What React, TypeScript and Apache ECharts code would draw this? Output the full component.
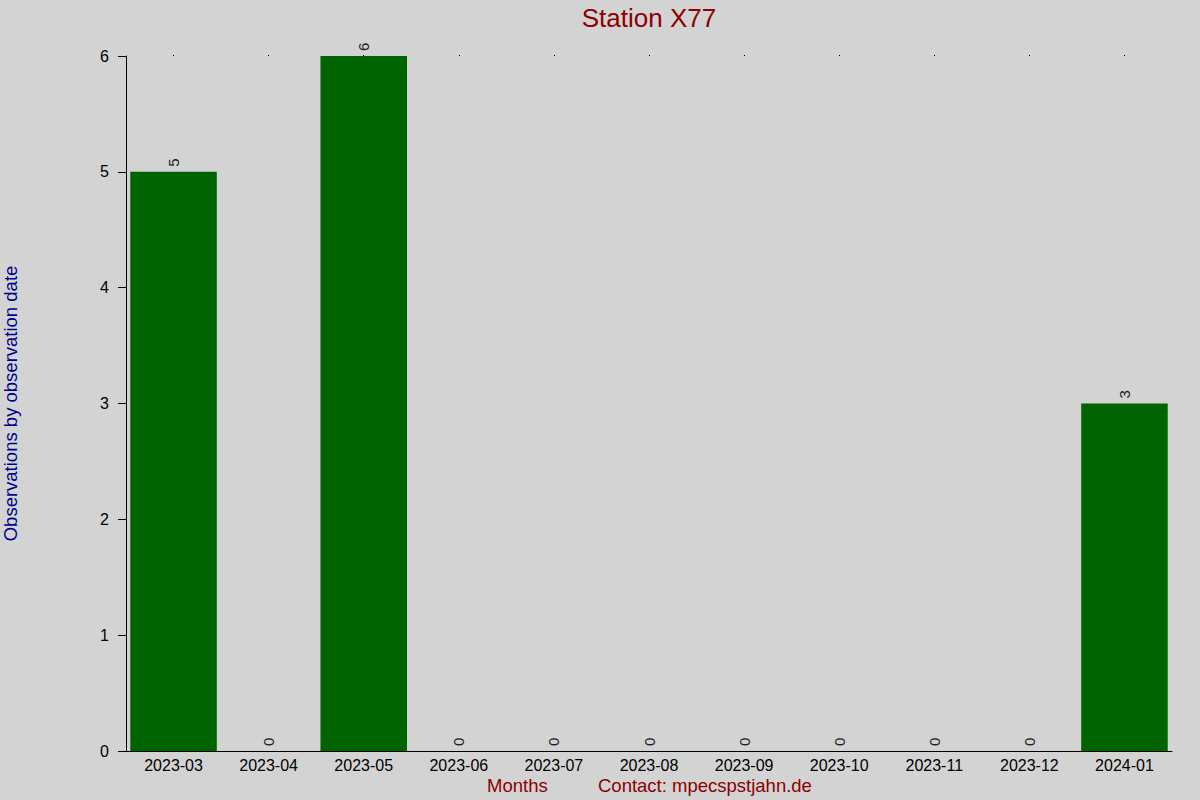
import { useEffect, useRef } from "react";
import * as echarts from "echarts";

const months = [
  "2023-03", "2023-04", "2023-05", "2023-06", "2023-07", "2023-08",
  "2023-09", "2023-10", "2023-11", "2023-12", "2024-01",
];
const observations = [5, 0, 6, 0, 0, 0, 0, 0, 0, 0, 3];
const yTicks = [0, 1, 2, 3, 4, 5, 6];

const FONT = "'Liberation Sans', Arial, sans-serif";

export default function App() {
  const chartRef = useRef<HTMLDivElement>(null);

  useEffect(() => {
    if (!chartRef.current) return;
    document.body.style.margin = "0";
    const chart = echarts.init(chartRef.current, undefined, { renderer: "svg" });

    chart.setOption({
      animation: false,
      backgroundColor: "#d3d3d3",
      textStyle: { fontFamily: FONT },
      grid: { left: 126, right: 28, top: 56, bottom: 49, containLabel: false, outerBoundsMode: "none" },
      xAxis: [
        {
          type: "category",
          data: months,
          position: "bottom",
          axisLine: { show: true, lineStyle: { color: "#000", width: 1 } },
          axisTick: { show: false },
          axisLabel: { color: "#000", fontSize: 16, margin: 6, fontFamily: FONT, interval: 0 },
        },
        {
          type: "category",
          data: months,
          position: "top",
          axisLine: { show: false },
          axisTick: { show: true, alignWithLabel: true, length: 1, lineStyle: { color: "#000" } },
          axisLabel: { show: false },
        },
      ],
      yAxis: {
        type: "value",
        min: yTicks[0],
        max: yTicks[yTicks.length - 1],
        interval: 1,
        name: "Observations by observation date",
        nameLocation: "middle",
        nameGap: 106,
        nameTextStyle: { color: "#00008b", fontSize: 18.5, fontFamily: FONT },
        axisLine: { show: true, lineStyle: { color: "#000", width: 1 } },
        axisTick: { show: true, inside: false, length: 8, lineStyle: { color: "#000" } },
        axisLabel: { color: "#000", fontSize: 16, margin: 17, fontFamily: FONT },
        splitLine: { show: false },
      },
      series: [
        {
          type: "bar",
          data: observations,
          barCategoryGap: "9%",
          itemStyle: { color: "#006400" },
          label: {
            show: true,
            position: "top",
            rotate: 90,
            align: "left",
            verticalAlign: "middle",
            distance: 5,
            color: "#222",
            fontSize: 15,
            fontFamily: FONT,
          },
        },
      ],
      graphic: [
        {
          type: "text",
          x: 649,
          y: 5,
          style: {
            text: "Station X77",
            fill: "#8b0000",
            fontSize: 26,
            fontFamily: FONT,
            textAlign: "center",
            textVerticalAlign: "top",
          },
        },
        {
          type: "text",
          left: 487,
          top: 776,
          style: { text: "Months", fill: "#8b0000", fontSize: 18.5, fontFamily: FONT },
        },
        {
          type: "text",
          left: 598,
          top: 776,
          style: { text: "Contact: mpecspstjahn.de", fill: "#8b0000", fontSize: 18.5, fontFamily: FONT },
        },
      ],
    });

    return () => {
      chart.dispose();
    };
  }, []);

  return <div ref={chartRef} style={{ width: 1200, height: 800 }} />;
}
